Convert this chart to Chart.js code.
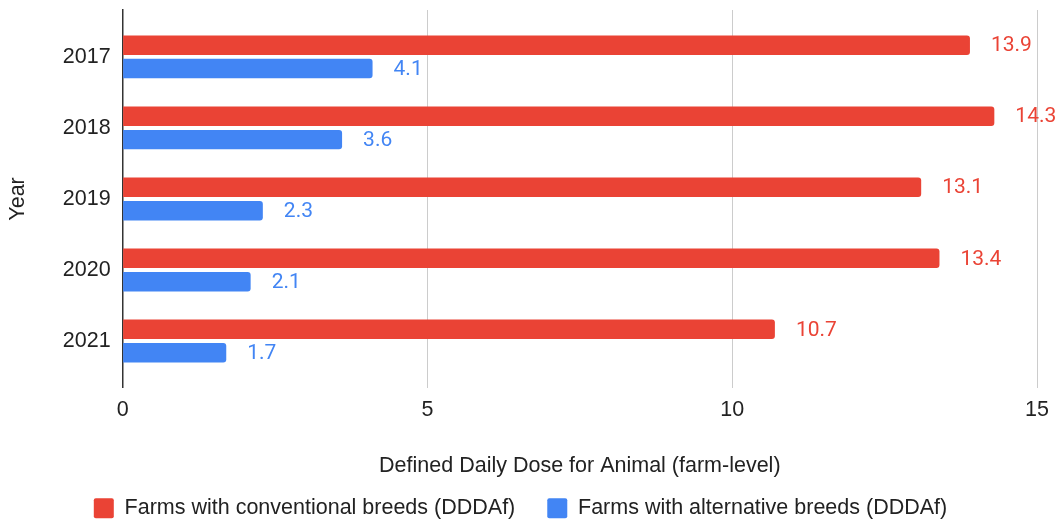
<!DOCTYPE html>
<html>
<head>
<meta charset="utf-8">
<script src="https://cdn.jsdelivr.net/npm/chart.js@4.4.1/dist/chart.umd.min.js"></script>
<style>
  html, body { margin: 0; padding: 0; background: #fff; }
  #wrap { width: 1061px; height: 525px; }
</style>
</head>
<body>
<div id="wrap"><canvas id="myChart"></canvas></div>
<script>
const years = ["2017", "2018", "2019", "2020", "2021"];
const conventional = [13.9, 14.3, 13.1, 13.4, 10.7];
const alternative = [4.1, 3.6, 2.3, 2.1, 1.7];
const xTicks = [0, 5, 10, 15];

const RED = "#ea4335";
const BLUE = "#4285f4";
const FONT = "'Liberation Sans', Arial, sans-serif";
const SIZE = 21.5;

// draw the value next to the end of each bar
const valueLabels = {
    id: "valueLabels",
    afterDatasetsDraw(chart) {
        const ctx = chart.ctx;
        ctx.save();
        ctx.font = "21px Roboto, sans-serif";
        ctx.textBaseline = "middle";
        ctx.textAlign = "left";
        chart.data.datasets.forEach((ds, i) => {
            const meta = chart.getDatasetMeta(i);
            ctx.fillStyle = ds.backgroundColor;
            meta.data.forEach((bar, j) => {
                ctx.fillText(String(ds.data[j]), bar.x + 21, bar.y + 1);
            });
        });
        ctx.restore();
    }
};

const data = {
    labels: years,
    datasets: [
        {
            label: "Farms with conventional breeds (DDDAf)",
            backgroundColor: RED,
            borderColor: RED,
            data: conventional,
        },
        {
            label: "Farms with alternative breeds (DDDAf)",
            backgroundColor: BLUE,
            borderColor: BLUE,
            data: alternative,
        },
    ],
};

const config = {
    type: "bar",
    data: data,
    options: {
        indexAxis: "y",
        responsive: true,
        maintainAspectRatio: false,
        animation: false,
        categoryPercentage: 0.66,
        barPercentage: 0.83,
        borderRadius: 3,
        layout: { padding: { top: 10, right: 24, left: 4, bottom: -4 } },
        scales: {
            x: {
                min: 0,
                max: 15,
                afterBuildTicks: (s) => { s.ticks = xTicks.map((v) => ({ value: v })); },
                grid: { color: "#cccccc", lineWidth: 1, drawTicks: false },
                border: { display: false },
                ticks: { color: "#222", font: { family: FONT, size: SIZE }, padding: 9 },
                title: {
                    display: true,
                    text: "Defined Daily Dose for Animal (farm-level)",
                    color: "#222",
                    font: { family: FONT, size: SIZE },
                    padding: { top: 21, bottom: -13 },
                },
            },
            y: {
                type: "linear",
                reverse: true,
                offset: false,
                min: 2016.34,
                max: 2021.66,
                afterBuildTicks: (s) => { s.ticks = years.map((y) => ({ value: Number(y) })); },
                afterFit: (s) => { s.paddingTop = 0; s.paddingBottom = 0; },
                grid: { display: false, drawTicks: false },
                border: { display: true, color: "#333", width: 1.5 },
                ticks: {
                    color: "#222",
                    font: { family: FONT, size: SIZE },
                    padding: 12,
                    callback: (v) => String(v),
                },
                title: {
                    display: true,
                    text: "Year",
                    color: "#222",
                    font: { family: FONT, size: SIZE },
                    padding: { top: 1, bottom: 20 },
                },
            },
        },
        plugins: {
            legend: {
                position: "bottom",
                labels: {
                    color: "#222",
                    font: { family: FONT, size: SIZE },
                    boxWidth: 20,
                    boxHeight: 20,
                    padding: 32,
                    useBorderRadius: true,
                    borderRadius: 2,
                },
            },
            tooltip: { enabled: false },
        },
    },
    plugins: [valueLabels],
};

new Chart(document.getElementById("myChart"), config);
</script>
</body>
</html>
